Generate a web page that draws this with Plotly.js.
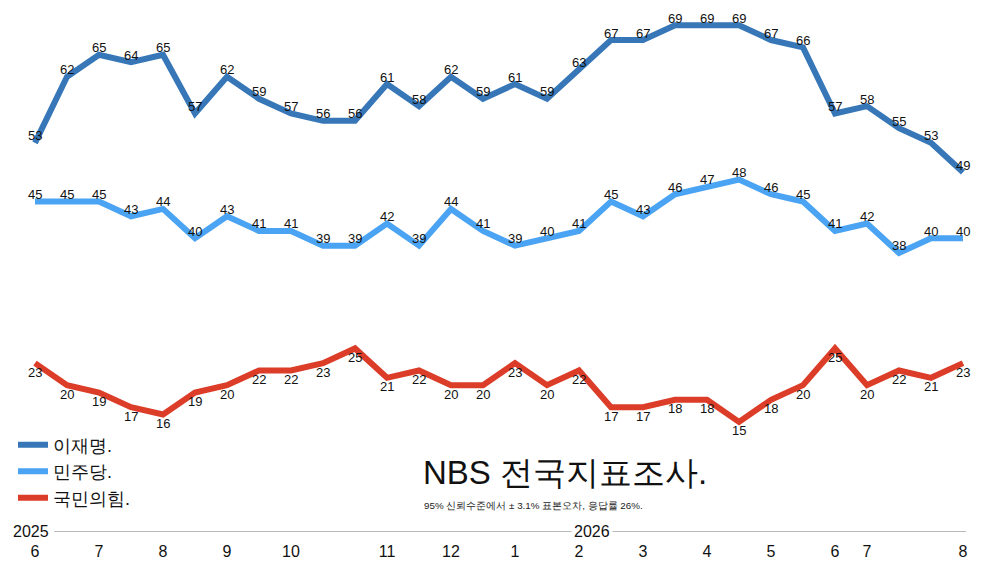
<!DOCTYPE html>
<html>
<head>
<meta charset="utf-8">
<script src="https://cdn.plot.ly/plotly-3.0.1.min.js"></script>
<style>
  html, body { margin: 0; padding: 0; background: #fff; }
  #chart { width: 1000px; height: 563px; }
</style>
</head>
<body>
<div id="chart"></div>
<script>
// survey rounds, one per point (index on x)
var rounds = [];
for (var i = 0; i < 30; i++) rounds.push(i);

var leeJM = [53, 62, 65, 64, 65, 57, 62, 59, 57, 56, 56, 61, 58, 62, 59, 61, 59, 63, 67, 67, 69, 69, 69, 67, 66, 57, 58, 55, 53, 49];
var minjoo = [45, 45, 45, 43, 44, 40, 43, 41, 41, 39, 39, 42, 39, 44, 41, 39, 40, 41, 45, 43, 46, 47, 48, 46, 45, 41, 42, 38, 40, 40];
var ppp = [23, 20, 19, 17, 16, 19, 20, 22, 22, 23, 25, 21, 22, 20, 20, 23, 20, 22, 17, 17, 18, 18, 15, 18, 20, 25, 20, 22, 21, 23];

// month ticks
var monthTickAt = [0, 2, 4, 6, 8, 11, 13, 15, 17, 19, 21, 23, 25, 26, 29];
var monthTickText = ['6', '7', '8', '9', '10', '11', '12', '1', '2', '3', '4', '5', '6', '7', '8'];

var seriesNames = ['이재명.', '민주당.', '국민의힘.'];
var seriesColors = ['#3777b8', '#4aa3f3', '#dc3d29'];
var seriesValues = [leeJM, minjoo, ppp];
var labelShift = [7, 7, -9];

var font = 'Liberation Sans, Arial, sans-serif';

var data = seriesValues.map(function (vals, k) {
  return {
    type: 'scatter',
    mode: 'lines',
    x: rounds,
    y: vals,
    name: seriesNames[k],
    line: { color: seriesColors[k], width: 6 },
    hoverinfo: 'name+y'
  };
});

var annotations = [];
seriesValues.forEach(function (vals, k) {
  vals.forEach(function (v, i) {
    annotations.push({
      x: rounds[i], y: v, xref: 'x', yref: 'y',
      text: String(v), showarrow: false,
      yshift: labelShift[k],
      font: { family: font, size: 13, color: '#111' }
    });
  });
});

// year markers on the axis line
annotations.push({
  x: -0.13, y: 0, xref: 'x', yref: 'y', text: '2025', showarrow: false,
  font: { family: font, size: 16, color: '#111' }, yshift: 1
});
annotations.push({
  x: 17.4, y: 0, xref: 'x', yref: 'y', text: '2026', showarrow: false,
  bgcolor: '#fff', borderpad: 2,
  font: { family: font, size: 16, color: '#111' }, yshift: 1
});

// title block
annotations.push({
  x: 0.421, y: 0.115, xref: 'paper', yref: 'paper', xanchor: 'left', yanchor: 'middle',
  text: 'NBS 전국지표조사.', showarrow: false,
  font: { family: font, size: 33, color: '#111' }
});
annotations.push({
  x: 0.422, y: 0.052, xref: 'paper', yref: 'paper', xanchor: 'left', yanchor: 'middle',
  text: '95% 신뢰수준에서 ± 3.1% 표본오차, 응답률 26%.', showarrow: false,
  font: { family: font, size: 9.8, color: '#222' }
});

var layout = {
  width: 1000,
  height: 563,
  margin: { l: 0, r: 0, t: 17.5, b: 31 },
  paper_bgcolor: '#fff',
  plot_bgcolor: '#fff',
  showlegend: true,
  legend: {
    x: 0.013, y: 0.205, xanchor: 'left', yanchor: 'top',
    font: { family: font, size: 18, color: '#111' },
    tracegroupgap: 0,
    itemwidth: 30,
    bgcolor: 'rgba(0,0,0,0)'
  },
  xaxis: {
    range: [-35 / 32, 965 / 32],
    showgrid: false, zeroline: false, showline: false,
    tickvals: monthTickAt, ticktext: monthTickText,
    ticks: '', ticklabelstandoff: 8,
    tickfont: { family: font, size: 16, color: '#111' }
  },
  yaxis: {
    range: [0, 70],
    visible: false
  },
  shapes: [{
    type: 'line', xref: 'x', yref: 'y',
    x0: 0.6, x1: 29.1, y0: 0, y1: 0,
    line: { color: '#777', width: 1.2 },
    layer: 'below'
  }],
  annotations: annotations
};

Plotly.newPlot('chart', data, layout, { displayModeBar: false, staticPlot: true });
</script>
</body>
</html>
